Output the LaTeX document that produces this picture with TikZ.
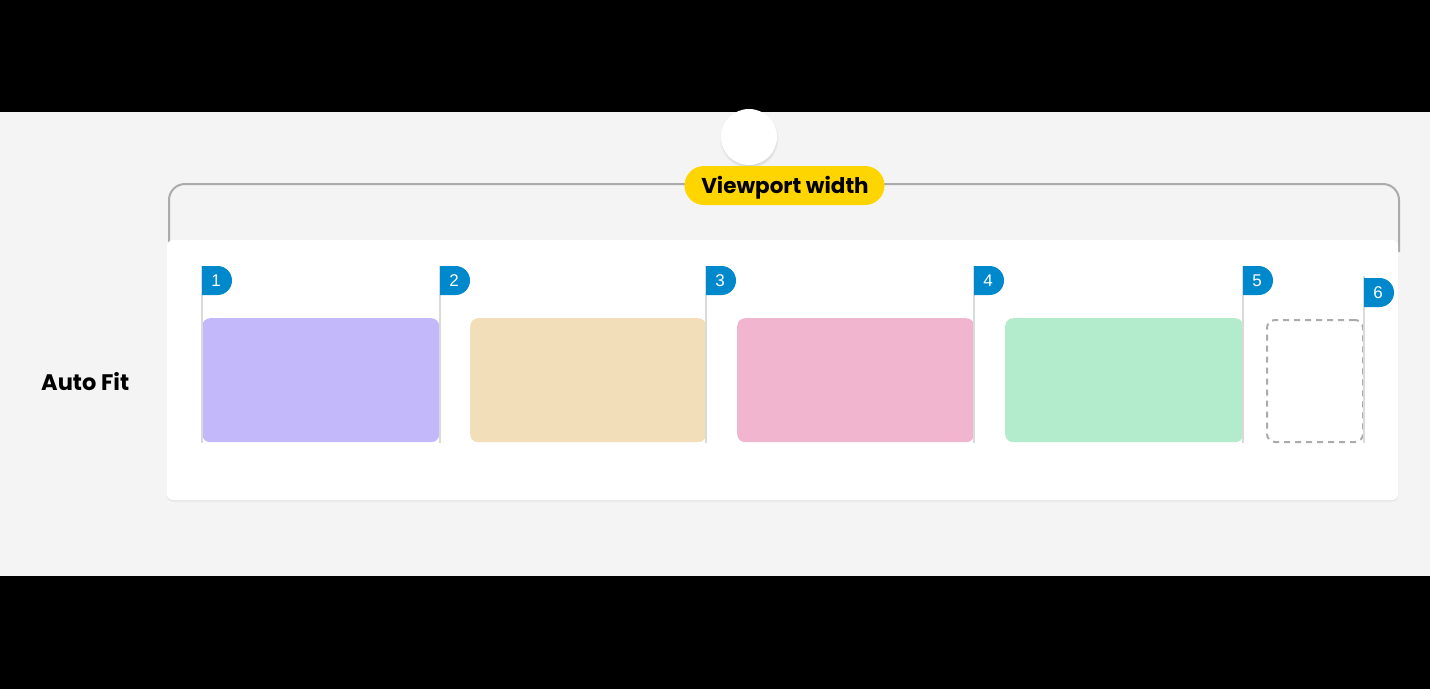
\documentclass[tikz,border=0pt]{standalone}
\usepackage{fontspec}
\setmainfont{Poppins}
\newfontfamily\flagfont{Liberation Sans}
\usetikzlibrary{shadows}
\definecolor{bandgray}{HTML}{F4F4F4}
\definecolor{brackgray}{HTML}{ABABAB}
\definecolor{polegray}{HTML}{DADADA}
\definecolor{flagblue}{HTML}{0088CC}
\definecolor{pillyellow}{HTML}{FFD500}
\definecolor{cpurple}{HTML}{C2B8FA}
\definecolor{ctan}{HTML}{F2DFBA}
\definecolor{cpink}{HTML}{F2B5D0}
\definecolor{cgreen}{HTML}{B3ECCD}
\tikzset{
  itembox/.style={rounded corners=8pt, inner sep=0pt, minimum width=#1, minimum height=124pt, anchor=north west},
  pole/.style={draw=polegray, line width=2pt},
  flagnum/.style={text=white, font=\flagfont\fontsize{17}{17}\selectfont, inner sep=0pt},
  flagshape/.style={fill=flagblue},
}
\newcommand{\myflag}[3]{% x, y, number
  \fill[flagshape] (#1,#2) [rounded corners=14.5pt] -- (#1+30,#2) -- (#1+30,#2+29) [sharp corners] -- (#1,#2+29) -- cycle;
  \node[flagnum] (flag#3) at (#1+14,#2+14.5) {#3};
}
\begin{document}
\begin{tikzpicture}[x=1pt,y=-1pt]
\useasboundingbox (0,0) rectangle (1430,689);
\fill[black] (0,0) rectangle (1430,689);
\fill[bandgray] (0,112) rectangle (1430,576);
% bracket
\draw[brackgray, line width=2pt] (169,250) [rounded corners=16pt] -- (169,184) -- (1399,184) -- (1399,252);
% card
\fill[white, rounded corners=6pt, drop shadow={opacity=0.12, shadow xshift=0pt, shadow yshift=-1.5pt}] (167,240) rectangle (1398,500);
% circle handle
\node[circle, fill=white, minimum size=56pt, inner sep=0pt, circular drop shadow={opacity=0.3, shadow xshift=0pt, shadow yshift=-2pt, shadow scale=1.05}] (handle) at (749,137) {};
% pill
\node[fill=pillyellow, rounded corners=19.5pt, minimum width=200pt, minimum height=39pt, inner sep=0pt] (pill) at (784.5,185.5) {};
\node[font=\bfseries\fontsize{21.5}{21.5}\selectfont, inner sep=0pt] (pilltext) at (785,188) {Viewport width};
% label
\node[anchor=west, inner sep=0pt, font=\bfseries\fontsize{22.5}{22.5}\selectfont] (autofit) at (41,382) {Auto Fit};
% boxes
\node[itembox=237pt, fill=cpurple] (b1) at (202,318) {};
\node[itembox=236pt, fill=ctan] (b2) at (470,318) {};
\node[itembox=237pt, fill=cpink] (b3) at (737,318) {};
\node[itembox=238pt, fill=cgreen] (b4) at (1005,318) {};
\node[itembox=96pt, minimum height=122pt, draw=brackgray, line width=2pt, dash pattern=on 6pt off 5pt] (b5) at (1266,319) {};
% poles
\draw[pole] (202,266) -- (202,443);
\draw[pole] (440,266) -- (440,443);
\draw[pole] (706,266) -- (706,443);
\draw[pole] (974,266) -- (974,443);
\draw[pole] (1243,266) -- (1243,443);
\draw[pole] (1364,276) -- (1364,443);
% flags
\myflag{202}{266}{1}
\myflag{440}{266}{2}
\myflag{706}{266}{3}
\myflag{974}{266}{4}
\myflag{1243}{266}{5}
\myflag{1364}{278}{6}
\end{tikzpicture}
\end{document}
